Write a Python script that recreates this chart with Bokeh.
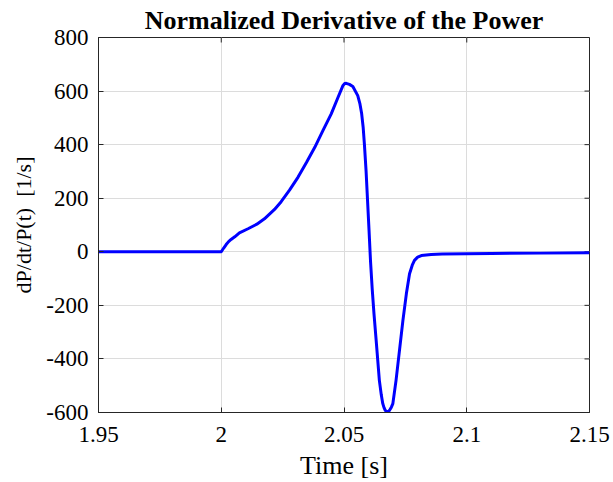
from bokeh.plotting import figure
from bokeh.models import FixedTicker, Range1d
from bokeh.embed import file_html
from bokeh.resources import INLINE

time_s = [1.95, 1.99, 2.0, 2.001, 2.002, 2.003, 2.004, 2.0055, 2.0074, 2.0109, 2.0145, 2.0176,
          2.0217, 2.0244, 2.0278, 2.0313, 2.0347, 2.0381, 2.0414, 2.0448, 2.0475, 2.0496, 2.0503,
          2.0509, 2.0522, 2.0536, 2.0556, 2.0565, 2.0572, 2.0578, 2.0583, 2.0590, 2.0596, 2.0602,
          2.0608, 2.0615, 2.0622, 2.0631, 2.0644, 2.0652, 2.0658, 2.0663, 2.0668, 2.0673, 2.0678,
          2.0683, 2.0688, 2.0693, 2.0699, 2.0712, 2.0726, 2.0740, 2.0754, 2.0767, 2.0778, 2.0787,
          2.0800, 2.0815, 2.0855, 2.09, 2.11, 2.13, 2.15]
dpdt_norm = [0, 0, 0, 14, 27, 38, 46, 56, 71, 86, 103, 123,
             158, 187, 230, 279, 333, 390, 452, 515, 575, 621, 628,
             629, 625, 617, 583, 552, 515, 465, 403, 300, 190, 80,
             -35, -140, -230, -331, -480, -535, -567, -582, -592, -596, -597,
             -595, -588, -580, -567, -480, -368, -256, -157, -82, -50, -32,
             -20, -14, -10, -8, -6, -5, -4]

x_ticks = [1.95, 2.0, 2.05, 2.1, 2.15]
x_labels = ["1.95", "2", "2.05", "2.1", "2.15"]
y_ticks = [-600, -400, -200, 0, 200, 400, 600, 800]
y_labels = ["-600", "-400", "-200", "0", "200", "400", "600", "800"]

FONT = "Liberation Serif"
X0, X1, Y0, Y1 = 1.95, 2.15, -600, 800
FRAME_W, FRAME_H = 491, 375
TICK_PX = 5
AX_COLOR = "#262626"

p = figure(width=613, height=482, output_backend="svg", toolbar_location=None,
           x_range=Range1d(X0, X1), y_range=Range1d(Y0, Y1),
           min_border_left=98, min_border_right=24, min_border_top=37, min_border_bottom=70,
           title="Normalized Derivative of the Power")

p.title.text_font = FONT
p.title.text_font_size = "26px"
p.title.text_font_style = "bold"
p.title.align = "center"
p.title.text_color = "black"
p.title.standoff = 5

p.grid.grid_line_color = "#DCDCDC"
p.grid.grid_line_width = 1
p.xgrid.ticker = FixedTicker(ticks=x_ticks)
p.ygrid.ticker = FixedTicker(ticks=y_ticks)

# inner ticks on the top and right edges (MATLAB box style)
dy = (Y1 - Y0) / FRAME_H * TICK_PX
dx = (X1 - X0) / FRAME_W * TICK_PX
p.segment(x0=x_ticks, y0=[Y1] * len(x_ticks), x1=x_ticks, y1=[Y1 - dy] * len(x_ticks),
          line_color=AX_COLOR, line_width=1)
p.segment(x0=[X1] * len(y_ticks), y0=y_ticks, x1=[X1 - dx] * len(y_ticks), y1=y_ticks,
          line_color=AX_COLOR, line_width=1)

p.line(time_s, dpdt_norm, line_color="#0000FF", line_width=3, line_join="round")

p.outline_line_color = AX_COLOR
p.outline_line_width = 1

for ax in [p.xaxis[0], p.yaxis[0]]:
    ax.major_label_text_font = FONT
    ax.major_label_text_font_size = "23px"
    ax.major_label_text_color = "black"
    ax.axis_label_text_font = FONT
    ax.axis_label_text_font_style = "normal"
    ax.axis_label_text_color = "black"
    ax.major_tick_in = TICK_PX
    ax.major_tick_out = 0
    ax.minor_tick_in = 0
    ax.minor_tick_out = 0
    ax.axis_line_color = AX_COLOR
    ax.major_tick_line_color = AX_COLOR

p.xaxis[0].ticker = FixedTicker(ticks=x_ticks)
p.yaxis[0].ticker = FixedTicker(ticks=y_ticks)
p.xaxis[0].major_label_overrides = dict(zip(x_ticks, x_labels))
p.yaxis[0].major_label_overrides = dict(zip(y_ticks, y_labels))
p.xaxis[0].axis_label = "Time [s]"
p.yaxis[0].axis_label = "dP/dt/P(t)\u00a0\u00a0[1/s]"
p.xaxis[0].axis_label_text_font_size = "26px"
p.yaxis[0].axis_label_text_font_size = "22px"
p.yaxis[0].major_label_orientation = "horizontal"
p.xaxis[0].major_label_standoff = 14
p.yaxis[0].major_label_standoff = 10
p.xaxis[0].axis_label_standoff = 6
p.yaxis[0].axis_label_standoff = 7

open("out.html", "w").write(file_html(p, INLINE))
